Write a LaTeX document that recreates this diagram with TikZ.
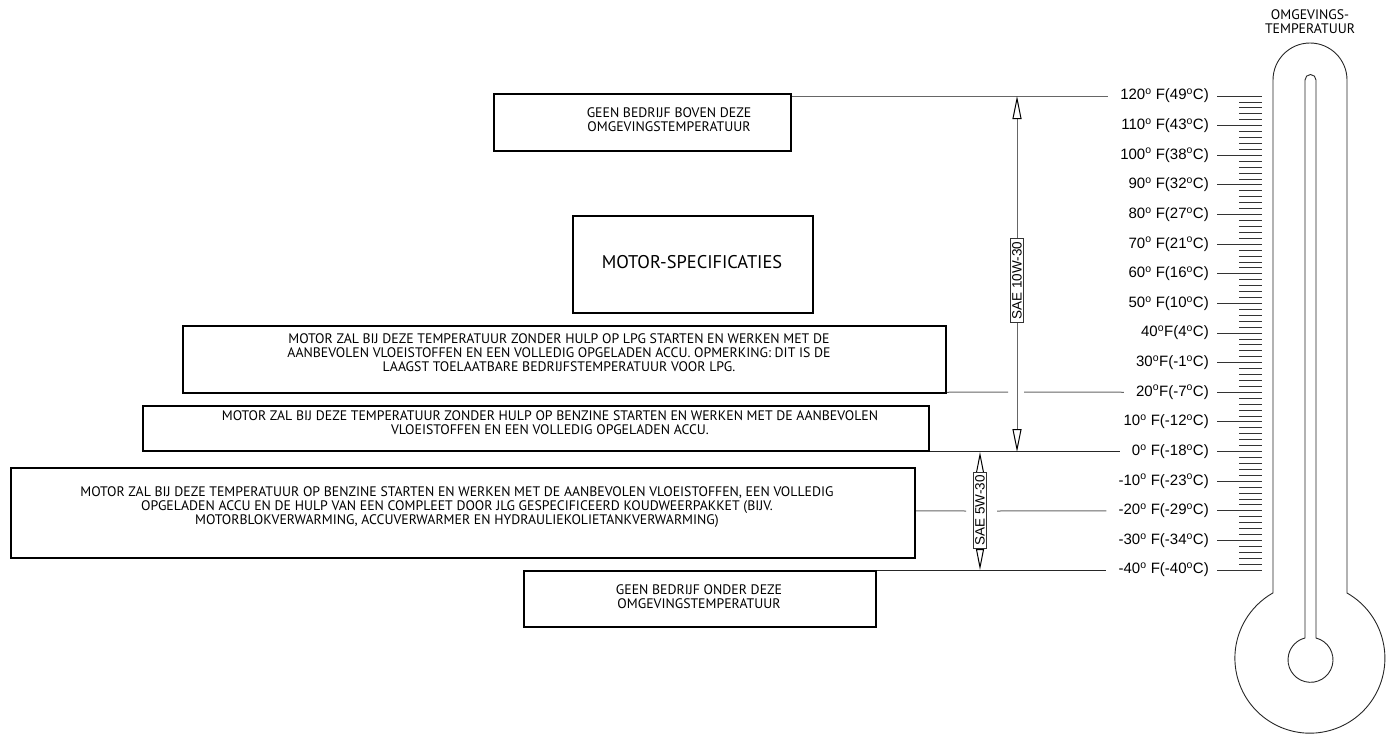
\documentclass[tikz,border=0pt]{standalone}
\usepackage{fontspec}
\setmainfont{Liberation Sans}
\newfontfamily\boxfont{PT Sans}
\usetikzlibrary{arrows.meta}
\newcommand\degsym{\textsuperscript{o}}
\begin{document}
\begin{tikzpicture}[x=1pt,y=-1pt,
  box/.style={draw, line width=2.2pt, inner sep=0pt, anchor=north west},
  btxt/.style={font=\boxfont\fontsize{13.8}{14}\selectfont, align=center, inner sep=0pt},
  tlab/.style={font=\fontsize{15}{16}\selectfont, anchor=east, inner sep=0pt},
  tick/.style={draw=black!80, line width=0.8pt},
  gline/.style={draw=black!60, line width=1pt},
  bline/.style={draw=black!85, line width=1pt},
  dimA/.style={draw=black!60, line width=1pt,
    {Triangle[open,length=23pt,width=9pt,color=black]}-{Triangle[open,length=23pt,width=9pt,color=black]}},
  dimB/.style={draw=black!60, line width=1pt,
    {Triangle[open,length=21pt,width=8pt,color=black]}-{Triangle[open,length=21pt,width=8pt,color=black]}},
  dlab/.style={draw=black!80, fill=white, rotate=90, line width=0.9pt,
    font=\fontsize{13.5}{14}\selectfont, inner xsep=3pt, inner ysep=2pt},
  thermo/.style={draw=black!85, line width=0.9pt}]
\useasboundingbox (0,0) rectangle (1387,734);

% ---- boxes ----
\node[box, minimum width=297pt, minimum height=57pt] (b1) at (493,93) {};
\node[btxt] (b1t) at (669,120) {GEEN BEDRIJF BOVEN DEZE\\OMGEVINGSTEMPERATUUR};

\node[box, minimum width=240pt, minimum height=97pt] (b2) at (572,215) {};
\node[btxt, font=\boxfont\fontsize{18.4}{20}\selectfont] (b2t) at (692,262) {MOTOR-SPECIFICATIES};

\node[box, minimum width=763pt, minimum height=67pt] (b3) at (182,325) {};
\node[btxt] (b3t) at (559,353) {MOTOR ZAL BIJ DEZE TEMPERATUUR ZONDER HULP OP LPG STARTEN EN WERKEN MET DE\\AANBEVOLEN VLOEISTOFFEN EN EEN VOLLEDIG OPGELADEN ACCU. OPMERKING: DIT IS DE\\LAAGST TOELAATBARE BEDRIJFSTEMPERATUUR VOOR LPG.};

\node[box, minimum width=786pt, minimum height=45pt] (b4) at (142,405) {};
\node[btxt] (b4t) at (550,423) {MOTOR ZAL BIJ DEZE TEMPERATUUR ZONDER HULP OP BENZINE STARTEN EN WERKEN MET DE AANBEVOLEN\\VLOEISTOFFEN EN EEN VOLLEDIG OPGELADEN ACCU.};

\node[box, minimum width=904pt, minimum height=90pt] (b5) at (10,467) {};
\node[btxt] (b5t) at (457,507) {MOTOR ZAL BIJ DEZE TEMPERATUUR OP BENZINE STARTEN EN WERKEN MET DE AANBEVOLEN VLOEISTOFFEN, EEN VOLLEDIG\\OPGELADEN ACCU EN DE HULP VAN EEN COMPLEET DOOR JLG GESPECIFICEERD KOUDWEERPAKKET (BIJV.\\MOTORBLOKVERWARMING, ACCUVERWARMER EN HYDRAULIEKOLIETANKVERWARMING)};

\node[box, minimum width=352pt, minimum height=56pt] (b6) at (523,570) {};
\node[btxt] (b6t) at (699,597) {GEEN BEDRIJF ONDER DEZE\\OMGEVINGSTEMPERATUUR};

% ---- scale labels ----
\foreach \i/\lab in {
  0/{120\degsym\ F(49\degsym C)}, 1/{110\degsym\ F(43\degsym C)}, 2/{100\degsym\ F(38\degsym C)},
  3/{90\degsym\ F(32\degsym C)}, 4/{80\degsym\ F(27\degsym C)}, 5/{70\degsym\ F(21\degsym C)},
  6/{60\degsym\ F(16\degsym C)}, 7/{50\degsym\ F(10\degsym C)}, 8/{40\degsym F(4\degsym C)},
  9/{30\degsym F(-1\degsym C)}, 10/{20\degsym F(-7\degsym C)}, 11/{10\degsym\ F(-12\degsym C)},
  12/{0\degsym\ F(-18\degsym C)}, 13/{-10\degsym\ F(-23\degsym C)}, 14/{-20\degsym\ F(-29\degsym C)},
  15/{-30\degsym\ F(-34\degsym C)}, 16/{-40\degsym\ F(-40\degsym C)}} {
  \node[tlab] (t\i) at (1209, 96+\i*29.625) {\lab};
  \draw[tick] ([xshift=8pt]t\i.east) -- (1262, 96+\i*29.625);
}
\foreach \k in {0,...,80} \draw[tick] (1239, 96+\k*5.925) -- (1262, 96+\k*5.925);

% ---- level lines ----
\coordinate (g1) at (1008,392);
\coordinate (g2) at (1024,392);
\coordinate (g3) at (966,511);
\coordinate (g4) at (997,511);
\draw[gline] (b1.east |- t0) -- ([xshift=-12pt]t0.west);
\draw[gline] (b3.east |- t10) -- (g1);
\draw[gline] (g2) -- ([xshift=-12pt]t10.west);
\draw[bline] (b4.east |- t12) -- ([xshift=-12pt]t12.west);
\draw[gline] (b5.east |- t14) -- (g3);
\draw[gline] (g4) -- ([xshift=-12pt]t14.west);
\draw[bline] (b6.north east) -- ([xshift=-12pt]t16.west |- b6.north east);

% ---- dimension arrows ----
\coordinate (d1top) at (1017,96);
\coordinate (d1bot) at (1017,452);
\draw[dimA] (d1top) -- (d1bot);
\node[dlab] (sae10) at (1017,280.5) {SAE 10W-30};
\coordinate (d2top) at (980,452);
\coordinate (d2bot) at (980,570);
\draw[dimB] (d2top) -- (d2bot);
\node[dlab] (sae5) at (980,510.5) {SAE 5W-30};

% ---- thermometer ----
\node[btxt] (head) at (1310,22) {OMGEVINGS-\\TEMPERATUUR};
\draw[thermo] (1273,593) -- (1273,80) arc[start angle=180,end angle=360,radius=37]
  -- (1347,593) arc[start angle=-60.35,end angle=240.35,radius=75] -- cycle;
\draw[thermo] (1305,638) -- (1305,80) arc[start angle=180,end angle=360,radius=5.5]
  -- (1316,638) arc[start angle=-75.84,end angle=255.84,radius=22.5] -- cycle;
\end{tikzpicture}
\end{document}
